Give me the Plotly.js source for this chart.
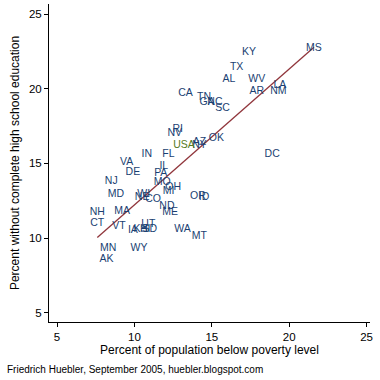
<!DOCTYPE html>
<html><head><meta charset="utf-8">
<script src="https://cdn.plot.ly/plotly-3.0.1.min.js"></script>
<style>html,body{margin:0;padding:0;background:#fff}#c{width:380px;height:380px}</style>
</head><body><div id="c"></div>
<script>
const states = ["MS","KY","TX","AL","WV","LA","AR","NM","CA","TN","GA","NC","SC","RI","NV","OK","AZ","NY","DC","FL","IN","VA","DE","IL","PA","MO","OH","MI","NJ","MD","WI","NE","CO","ND","ME","NH","MA","CT","VT","IA","KS","HI","UT","SD","OR","ID","WA","MT","MN","AK","WY"];
const poverty = [21.6,17.4,16.6,16.1,17.9,19.4,17.9,19.3,13.3,14.5,14.7,15.2,15.7,12.8,12.6,15.3,14.2,14.2,18.9,12.2,10.8,9.5,9.9,11.9,11.7,11.8,12.5,12.2,8.5,8.8,10.6,10.5,11.2,12.1,12.3,7.6,9.2,7.6,9.0,9.9,10.4,10.7,10.9,11.0,14.1,14.5,13.1,14.2,8.3,8.2,10.3];
const noHighSchool = [22.7,22.4,21.4,20.6,20.6,20.2,19.8,19.8,19.7,19.4,19.1,19.1,18.7,17.3,17.0,16.7,16.4,16.2,15.6,15.6,15.6,15.1,14.4,14.8,14.3,13.7,13.4,13.1,13.8,12.9,12.9,12.7,12.6,12.1,11.7,11.7,11.8,11.0,10.8,10.5,10.6,10.6,10.9,10.6,12.8,12.7,10.6,10.1,9.3,8.6,9.3];
const usaLabel = ["USA"];
const usaPoverty = [13.2];
const usaNoHighSchool = [16.2];

// OLS fit over the states
const n = poverty.length;
const mx = poverty.reduce((a,b)=>a+b,0)/n;
const my = noHighSchool.reduce((a,b)=>a+b,0)/n;
let sxy=0,sxx=0;
for(let i=0;i<n;i++){sxy+=(poverty[i]-mx)*(noHighSchool[i]-my);sxx+=(poverty[i]-mx)**2;}
const b = sxy/sxx, a = my-b*mx;
const xmin = Math.min(...poverty), xmax = Math.max(...poverty);
const fitX = [xmin, xmax];
const fitY = fitX.map(x=>a+b*x);

const font = "Liberation Sans, Arial, sans-serif";
const data = [
 {x: fitX, y: fitY, mode:"lines", line:{color:"#90353b", width:1.3}, hoverinfo:"skip"},
 {x: poverty, y: noHighSchool, text: states, mode:"text", textposition:"middle center",
  textfont:{family:font, size:10.5, color:"#1a3f72"}},
 {x: usaPoverty, y: usaNoHighSchool, text: usaLabel, mode:"text", textposition:"middle center",
  textfont:{family:font, size:10.5, color:"#557a22"}}
];
const axisCommon = {showline:true, linecolor:"#000", linewidth:1, ticks:"outside", ticklen:4, tickcolor:"#000",
  showgrid:false, zeroline:false, tickfont:{family:font, size:11.5, color:"#000"}, tickvals:[5,10,15,20,25]};
const layout = {
  width:380, height:380, showlegend:false,
  paper_bgcolor:"#fff", plot_bgcolor:"#fff",
  margin:{l:49, r:10, t:4, b:58},
  xaxis: Object.assign({}, axisCommon, {range:[4.48,25.22], title:{text:"Percent of population below poverty level", font:{family:font, size:12, color:"#000"}, standoff:3}}),
  yaxis: Object.assign({}, axisCommon, {range:[4.38,25.67], title:{text:"Percent without complete high school education", font:{family:font, size:12, color:"#000"}, standoff:6}}),
  annotations:[{text:"Friedrich Huebler, September 2005, huebler.blogspot.com", xref:"paper", yref:"paper",
    x:-0.138, y:-0.148, xanchor:"left", yanchor:"middle", showarrow:false, font:{family:font, size:10, color:"#000"}}]
};
Plotly.newPlot("c", data, layout, {displayModeBar:false, staticPlot:true});
</script></body></html>
